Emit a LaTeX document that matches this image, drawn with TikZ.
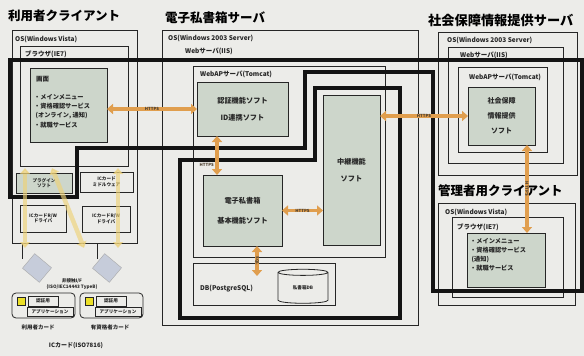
\documentclass[tikz,border=0pt]{standalone}
\usepackage{fontspec}
\setmainfont{Noto Sans CJK JP}
\usetikzlibrary{arrows.meta,fit,shapes.geometric,calc}

\definecolor{paper}{RGB}{236,236,233}
\definecolor{panel}{RGB}{205,214,203}
\definecolor{ink}{RGB}{38,38,38}
\definecolor{flow}{RGB}{224,158,78}
\definecolor{spark}{RGB}{238,210,120}
\definecolor{reader}{RGB}{198,204,218}
\definecolor{chip}{RGB}{236,224,40}

\tikzset{
  frame/.style={draw=ink, line width=0.8pt, inner sep=0pt, outer sep=0pt},
  panelbox/.style={frame, fill=panel},
  zone/.style={draw=black!92, line width=3.8pt, line join=miter},
  flowarrow/.style={draw=flow, line width=3.6pt,
    arrows={Triangle[length=6pt,width=10pt]-Triangle[length=6pt,width=10pt]}},
  sparkarrow/.style={draw=spark, line width=4.5pt, opacity=0.65,
    arrows={Triangle[length=6pt,width=10pt]-Triangle[length=6pt,width=10pt]}},
  title/.style={font=\fontsize{12.5}{13}\selectfont\bfseries, inner sep=0pt, anchor=west},
  lbl/.style={font=\fontsize{6.5}{7}\selectfont\bfseries, inner sep=0pt, anchor=west, text=ink},
  body/.style={font=\fontsize{6.8}{8.5}\selectfont\bfseries, inner sep=0pt, align=center, text=ink},
  tiny/.style={font=\fontsize{4.6}{5.5}\selectfont\bfseries, inner sep=0pt, align=center, text=ink},
  tag/.style={font=\fontsize{4.2}{4.5}\selectfont\bfseries, inner sep=0pt, text=ink!80!flow},
  rwbox/.style={draw=ink!40, fill=reader, minimum width=22pt, minimum height=19pt, rotate=-40},
}

\begin{document}
\begin{tikzpicture}[x=1pt,y=-1pt]
\fill[paper] (0,0) rectangle (584,356);
\useasboundingbox (0,0) rectangle (584,356);

% ---------- user client ----------
\node[title] (tUser) at (8,16) {利用者クライアント};
\node[frame, fit={(12,30) (137,243)}] (osU) {};
\node[lbl] at (15,39) {OS(Windows Vista)};
\node[frame, fit={(20,46) (128,166)}] (brU) {};
\node[lbl] at (25,54) {ブラウザ(IE7)};
\node[panelbox, fit={(30,68) (107,142)}] (scrU) {};
\node[lbl, anchor=north west] at (36,76) {画面};
\node[lbl, anchor=north west, font=\fontsize{6.2}{9.3}\selectfont\bfseries, align=left]
  at (34,94) {・メインメニュー\\・資格確認サービス\\\ (オンライン, 通知)\\・就職サービス};
\node[panelbox, fit={(16,173) (72,193)}] (sw1) {};
\node[tiny] at (sw1) {プラグイン\\ソフト};
\node[frame, fit={(80,172) (133,192)}] (sw2) {};
\node[tiny] at (sw2) {ICカード\\ミドルウェア};
\node[frame, fit={(20,205) (66,232)}] (drv1) {};
\node[tiny] at (drv1) {ICカードR/W\\ドライバ};
\node[frame, fit={(82,206) (130,232)}] (drv2) {};
\node[tiny] at (drv2) {ICカードR/W\\ドライバ};

% card readers
\node[rwbox] (rw1) at (37,268) {};
\node[rwbox] (rw2) at (107,268) {};
\coordinate (l1) at (22,259);
\coordinate (l2) at (97,259);
\draw[ink, line width=0.8pt] (l1 |- osU.south) -- (l1);
\draw[ink, line width=0.8pt] (l2 |- osU.south) -- (l2);
\node[tiny] (nfc) at (72,284) {非接触I/F\\(ISO/IEC14443 TypeB)};

% IC cards
\node[frame, rounded corners=4pt, fit={(12,293) (75,318)}] (card1) {};
\node[draw=ink, fill=chip, minimum size=8pt, inner sep=0pt] (chip1) at (21,301) {};
\node[frame, fit={(28,296) (58,306)}] (c1a) {};
\node[tiny] at (c1a) {認証用};
\node[frame, fit={(27,307) (73,316)}] (c1b) {};
\node[tiny] at (c1b) {アプリケーション};
\node[frame, rounded corners=4pt, fit={(80,293) (143,318)}] (card2) {};
\node[draw=ink, fill=chip, minimum size=8pt, inner sep=0pt] (chip2) at (89,301) {};
\node[frame, fit={(96,296) (126,306)}] (c2a) {};
\node[tiny] at (c2a) {認証用};
\node[frame, fit={(95,307) (141,316)}] (c2b) {};
\node[tiny] at (c2b) {アプリケーション};
\node[tiny, font=\fontsize{5.5}{6}\selectfont\bfseries] at (38,327) {利用者カード};
\node[tiny, font=\fontsize{5.5}{6}\selectfont\bfseries] at (110,327) {有資格者カード};
\node[tiny, font=\fontsize{6}{6}\selectfont\bfseries] at (76,346) {ICカード(ISO7816)};

% ---------- e-mailbox server ----------
\node[title] (tBox) at (165,18) {電子私書箱サーバ};
\node[frame, fit={(162,30) (418,325)}] (osE) {};
\node[lbl] at (168,38) {OS(Windows 2003 Server)};
\node[lbl] at (185,51) {Webサーバ(IIS)};
\node[frame, fit={(193,66) (385,257)}] (apE) {};
\node[lbl] at (200,74) {WebAPサーバ(Tomcat)};
\node[panelbox, fit={(197,82) (288,136)}] (auth) {};
\node[body, font=\fontsize{7.2}{17}\selectfont\bfseries] at (auth) {認証機能ソフト\\ID連携ソフト};
\node[panelbox, fit={(323,95) (380,245)}] (relay) {};
\node[body, font=\fontsize{7.2}{17}\selectfont\bfseries] at (relay) {中継機能\\ソフト};
\node[panelbox, fit={(203,175) (282,246)}] (core) {};
\node[body, font=\fontsize{7.2}{20}\selectfont\bfseries] at (core) {電子私書箱\\基本機能ソフト};
\node[frame, fit={(193,263) (335,305)}] (dbE) {};
\node[lbl] at (200,289) {DB(PostgreSQL)};
\node[cylinder, shape border rotate=90, draw=ink, line width=0.8pt, aspect=0.3,
      minimum width=50pt, minimum height=34pt, inner sep=0pt, tiny] (store) at (303,288) {私書箱DB};

% ---------- social security server ----------
\node[title, font=\fontsize{13.2}{14}\selectfont\bfseries] (tSoc) at (428,20) {社会保障情報提供サーバ};
\node[frame, fit={(438,32) (577,175)}] (osS) {};
\node[lbl] at (447,40) {OS(Windows 2003 Server)};
\node[frame, fit={(448,47) (563,163)}] (webS) {};
\node[lbl] at (460,55) {Webサーバ(IIS)};
\node[frame, fit={(458,67) (547,152)}] (apS) {};
\node[lbl] at (469,77) {WebAPサーバ(Tomcat)};
\node[panelbox, fit={(468,87) (535,145)}] (socS) {};
\node[body, font=\fontsize{7}{15}\selectfont\bfseries] at (socS) {社会保障\\情報提供\\ソフト};

% ---------- administrator client ----------
\node[title] (tAdm) at (438,191) {管理者用クライアント};
\node[frame, fit={(438,203) (575,305)}] (osA) {};
\node[lbl] at (445,212) {OS(Windows Vista)};
\node[frame, fit={(452,217) (563,297)}] (brA) {};
\node[lbl] at (457,227) {ブラウザ(IE7)};
\node[panelbox, fit={(467,233) (545,287)}] (scrA) {};
\node[lbl, anchor=north west, font=\fontsize{6.2}{9}\selectfont\bfseries, align=left]
  at (470,238) {・メインメニュー\\・資格確認サービス\\\ (通知)\\・就職サービス};

% ---------- thick boundary lines ----------
\draw[zone] (10,60) -- (582,60) -- (582,291) -- (433,291) -- (433,72) -- (305,72)
  -- (305,148) -- (77,148) -- (77,197) -- (10,197) -- cycle;
\draw[zone] (180,160) -- (315,160) -- (315,88) -- (400,88) -- (400,318) -- (180,318) -- cycle;

% ---------- data flows ----------
\draw[flowarrow] (auth.west -| scrU.east) -- (auth.west)
  node[midway, tag] {HTTPS};
\coordinate (v1) at (217,0);
\draw[flowarrow] (auth.south -| v1) -- (core.north -| v1);
\node[tag, anchor=east] at (214,165) {HTTPS};
\draw[flowarrow] (core.east) -- (core.east -| relay.west)
  node[midway, tag] {HTTPS};
\coordinate (v2) at (257,0);
\draw[flowarrow] (core.south -| v2) -- ([yshift=-13pt]dbE.north -| v2)
  node[midway, tag, rotate=-90] {SQL};
\draw[flowarrow] (socS.west -| relay.east) -- (socS.west)
  node[midway, tag] {HTTPS};
\coordinate (v3) at (527,0);
\draw[flowarrow] (socS.south -| v3) -- (scrA.north -| v3)
  node[midway, tag, rotate=-90] {HTTPS};

% card access flows
\coordinate (s1a) at (25,168);  \coordinate (s1b) at (25,248);
\coordinate (s2a) at (52,168);  \coordinate (s2b) at (84,248);
\coordinate (s3a) at (118,168); \coordinate (s3b) at (118,248);
\draw[sparkarrow] (s1a) -- (s1b);
\draw[sparkarrow] (s2a) -- (s2b);
\draw[sparkarrow] (s3a) -- (s3b);
\end{tikzpicture}
\end{document}
